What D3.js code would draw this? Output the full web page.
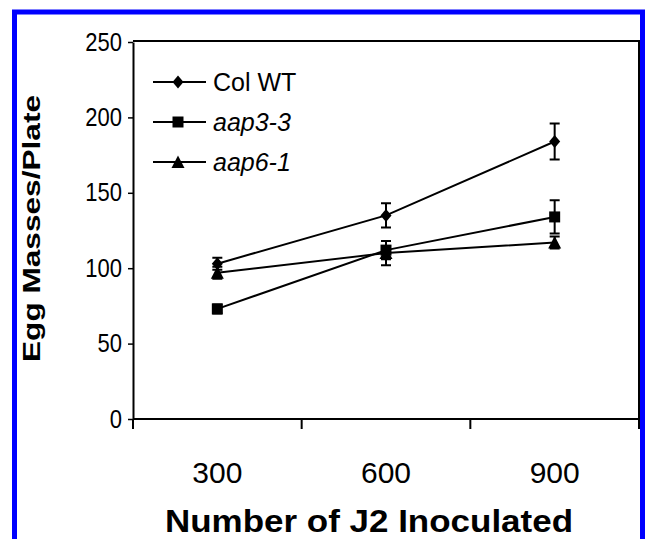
<!DOCTYPE html>
<html lang="en">
<head>
  <meta charset="UTF-8">
  <title>Egg masses per plate</title>
  <script src="https://d3js.org/d3.v7.min.js"></script>
  <style>
    body { margin: 0; background: #fff; }
    svg { display: block; font-family: "Liberation Sans", Arial, sans-serif; }
  </style>
</head>
<body>
<svg width="645" height="539"></svg>

<script>
  // Donnees
  const categories = ["300", "600", "900"];
  const seriesNames = ["Col WT", "aap3-3", "aap6-1"];
  const colWT = [103, 135, 184];
  const colWTErr = [4, 8, 12];
  const aap33 = [73, 112, 134];
  const aap33Err = [3, 6, 11];
  const aap61 = [97, 110, 117];
  const aap61Err = [4, 8, 4];
  const yTicks = [0, 50, 100, 150, 200, 250];

  const series = [
    { name: seriesNames[0], values: colWT, errs: colWTErr, shape: "diamond", italic: false },
    { name: seriesNames[1], values: aap33, errs: aap33Err, shape: "square", italic: true },
    { name: seriesNames[2], values: aap61, errs: aap61Err, shape: "triangle", italic: true }
  ];

  const svg = d3.select("svg");
  const plotL = 133, plotR = 639, plotT = 41, plotB = 419;

  // cadre bleu
  svg.append("rect")
    .attr("x", 14.5).attr("y", 12)
    .attr("width", 628).attr("height", 560)
    .attr("fill", "none").attr("stroke", "#0000ff").attr("stroke-width", 5);

  const x = d3.scaleBand().domain(categories).range([plotL, plotR]);
  const y = d3.scaleLinear().domain([0, 250]).range([plotB, plotT + 1]);

  // symboles
  function marker(shape) {
    if (shape === "diamond") return "M0,-6.5L5.5,0L0,6.5L-5.5,0Z";
    if (shape === "square") return "M-5.5,-5.5H5.5V5.5H-5.5Z";
    return "M0,-6.5L6.5,6L-6.5,6Z";
  }

  // cadre du graphique
  svg.append("path")
    .attr("d", `M${plotL},${plotT}H${plotR}V${plotB}`)
    .attr("fill", "none").attr("stroke", "#000").attr("stroke-width", 2);

  // axe Y
  const yAxis = svg.append("g")
    .attr("transform", `translate(${plotL},0)`)
    .call(d3.axisLeft(y).tickValues(yTicks).tickSize(5).tickPadding(6).tickSizeOuter(0));
  yAxis.select(".domain").attr("stroke-width", 2);
  yAxis.selectAll(".tick line").attr("stroke-width", 1.5);
  yAxis.selectAll(".tick text")
    .attr("font-size", 25)
    .attr("fill", "#000")
    .attr("x", -12.5)
    .attr("transform", "scale(0.88,1)");

  // axe X : traits entre categories
  svg.append("line")
    .attr("x1", plotL).attr("x2", plotR)
    .attr("y1", plotB).attr("y2", plotB)
    .attr("stroke", "#000").attr("stroke-width", 2);
  const bounds = categories.map(c => x(c)).concat([x(categories[categories.length - 1]) + x.step()]);
  svg.selectAll("line.xtick")
    .data(bounds)
    .join("line")
      .attr("class", "xtick")
      .attr("x1", d => d).attr("x2", d => d)
      .attr("y1", plotB).attr("y2", plotB + 10)
      .attr("stroke", "#000").attr("stroke-width", 2);

  svg.selectAll("text.xlab")
    .data(categories)
    .join("text")
      .attr("class", "xlab")
      .attr("x", d => x(d) + x.bandwidth() / 2)
      .attr("y", 483)
      .attr("text-anchor", "middle")
      .attr("font-size", 30)
      .text(d => d);

  // titres
  svg.append("text")
    .attr("x", 369).attr("y", 532)
    .attr("text-anchor", "middle")
    .attr("font-size", 31).attr("font-weight", "bold")
    .attr("textLength", 408).attr("lengthAdjust", "spacingAndGlyphs")
    .text("Number of J2  Inoculated");

  svg.append("text")
    .attr("transform", "translate(40,228.5) rotate(-90)")
    .attr("text-anchor", "middle")
    .attr("font-size", 23).attr("font-weight", "bold")
    .attr("textLength", 267).attr("lengthAdjust", "spacingAndGlyphs")
    .text("Egg Masses/Plate");

  // series
  const line = d3.line()
    .x((d, i) => x(categories[i]) + x.bandwidth() / 2)
    .y(d => y(d));

  series.forEach(s => {
    const g = svg.append("g");
    g.append("path")
      .attr("d", line(s.values))
      .attr("fill", "none").attr("stroke", "#000").attr("stroke-width", 2);
    s.values.forEach((v, i) => {
      const cx = x(categories[i]) + x.bandwidth() / 2;
      const e = s.errs[i];
      g.append("path")
        .attr("d", `M${cx},${y(v + e)}V${y(v - e)}M${cx - 5},${y(v + e)}H${cx + 5}M${cx - 5},${y(v - e)}H${cx + 5}`)
        .attr("fill", "none").attr("stroke", "#000").attr("stroke-width", 2);
      g.append("path")
        .attr("transform", `translate(${cx},${y(v)})`)
        .attr("d", marker(s.shape))
        .attr("fill", "#000");
    });
  });

  // legende
  const legend = svg.append("g").attr("transform", "translate(153,82)");
  series.forEach((s, i) => {
    const row = legend.append("g").attr("transform", `translate(0,${i * 40})`);
    row.append("line")
      .attr("x1", 0).attr("x2", 53)
      .attr("stroke", "#000").attr("stroke-width", 2);
    row.append("path")
      .attr("transform", "translate(25,0)")
      .attr("d", marker(s.shape))
      .attr("fill", "#000");
    row.append("text")
      .attr("x", 60).attr("y", 9)
      .attr("font-size", 25)
      .attr("font-style", s.italic ? "italic" : "normal")
      .text(s.name);
  });
</script>
</body>
</html>
